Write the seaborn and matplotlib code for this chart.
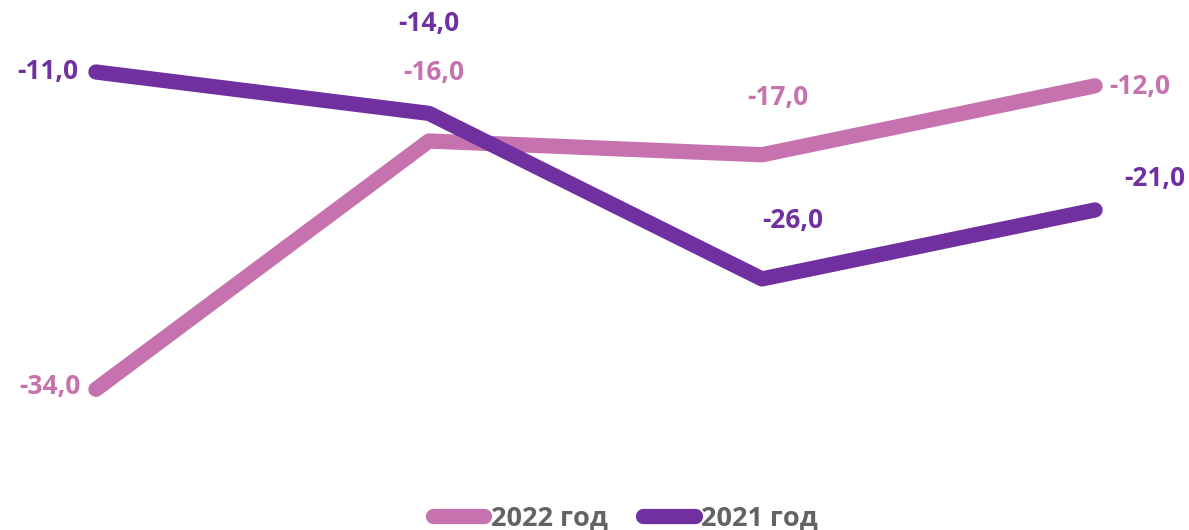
import numpy as np
import pandas as pd
import matplotlib.pyplot as plt
import seaborn as sns

# data
categories = ["Q1", "Q2", "Q3", "Q4"]
values_2022 = [-34.0, -16.0, -17.0, -12.0]
values_2021 = [-11.0, -14.0, -26.0, -21.0]
series_names = ["2022 год", "2021 год"]

COLORS = {"2022 год": "#C672AE", "2021 год": "#7030A0"}
# label offsets in pixels (dx, dy) relative to each point
OFFSETS = {
    "2022 год": [(-46, 3), (5, 68), (16, 57), (45, -1)],
    "2021 год": [(-48, 1), (0, 90), (31, 58), (60, 31)],
}

df = pd.DataFrame({
    "x": list(range(len(categories))) * 2,
    "value": values_2022 + values_2021,
    "series": [series_names[0]] * 4 + [series_names[1]] * 4,
})

sns.set_theme(style="white")
plt.rcParams["font.family"] = ["Open Sans", "DejaVu Sans"]

fig = plt.figure(figsize=(11.89, 5.30), dpi=100)
ax = fig.add_axes([0, 0, 1, 1])

sns.lineplot(
    data=df, x="x", y="value", hue="series", palette=COLORS,
    hue_order=series_names, linewidth=11, ax=ax, legend=False,
    solid_capstyle="round", solid_joinstyle="round",
)

for name, vals in zip(series_names, [values_2022, values_2021]):
    for i, v in enumerate(vals):
        ax.annotate(
            f"{v:.1f}".replace(".", ","), (i, v),
            xytext=OFFSETS[name][i], textcoords="offset pixels",
            ha="center", va="center", fontsize=19, fontweight="bold",
            color=COLORS[name],
        )

ax.set_xlim(-0.288, 3.282)
ax.set_ylim(-44.2, -5.78)
ax.axis("off")

handles = [
    plt.Line2D([0], [0], color=COLORS[n], linewidth=11, solid_capstyle="round")
    for n in series_names
]
fig.legend(
    handles, series_names, loc="center", bbox_to_anchor=(0.526, 0.022),
    ncol=2, frameon=False, handlelength=1.9, handletextpad=0.25,
    columnspacing=1.3, prop={"size": 19.5, "weight": "bold"},
    labelcolor="#636363",
)

fig.savefig("out.png", dpi=100)
